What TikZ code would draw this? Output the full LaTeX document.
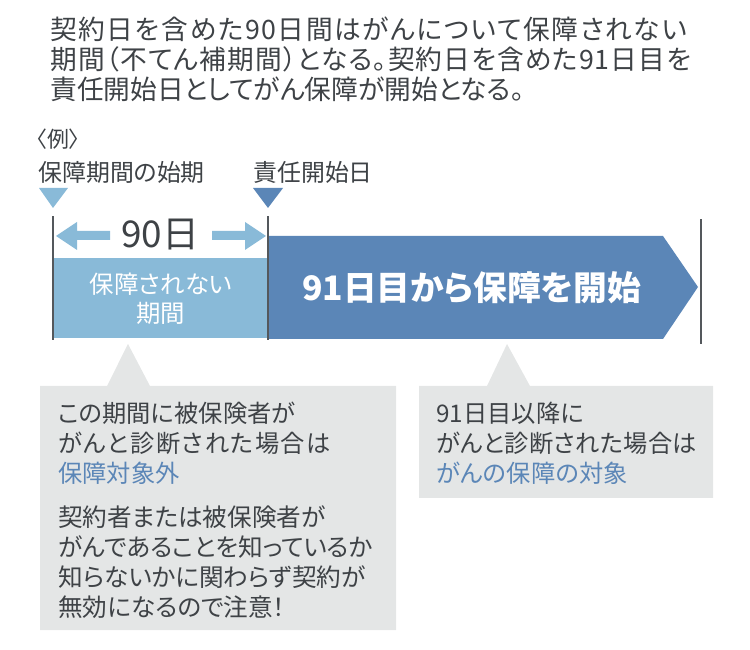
\documentclass[tikz,border=0pt]{standalone}
\usepackage{xcolor}
\usepackage{fontspec}
\setmainfont[RawFeature=+palt]{Noto Sans CJK JP}
\usetikzlibrary{calc}
\definecolor{lightblue}{HTML}{89BAD8}
\definecolor{darkblue}{HTML}{5B86B7}
\definecolor{calloutgray}{HTML}{E4E6E6}
\definecolor{inkgray}{HTML}{3E4246}
\definecolor{rulegray}{HTML}{54585C}
\newcommand{\spreadtxt}[2]{{\addfontfeature{LetterSpace=#1}#2}}
\tikzset{
  txt/.style={anchor=west,inner sep=0pt,text=inkgray,align=left},
  smalltxt/.style={txt,font=\fontsize{13.8}{17}\selectfont},
  marktxt/.style={txt,font=\fontsize{13.6}{17}\selectfont},
  warntxt/.style={txt,font=\fontsize{14}{17}\selectfont},
  headtxt/.style={txt,font=\fontsize{15.2}{17}\selectfont},
}
\begin{document}
\begin{tikzpicture}
    \useasboundingbox (0,0) rectangle (15,12.98);
    % top text
    \node[headtxt] (head) at (1,11.79) {\spreadtxt{6}{契約日を含めた90日間はがんについて保障されない}\\\spreadtxt{4}{期間（不てん補期間）となる。契約日を含めた91日目を}\\責任開始日としてがん保障が開始となる。};
    \node[txt,font=\fontsize{12.5}{17}\selectfont] (example) at (.72,10.2) {〈例〉};
    \node[marktxt] (startlabel) at (.76,9.54) {保障期間の始期};
    \node[marktxt] (liablabel) at (5.06,9.54) {責任開始日};
    \draw[fill=lightblue,draw=none] (.78,9.22) -- (1.36,9.22) -- (1.06,8.82) -- cycle;
    \draw[fill=darkblue,draw=none] (5.06,9.22) -- (5.66,9.22) -- (5.36,8.82) -- cycle;
    % bars
    \draw[fill=lightblue,draw=none] (1.06,6.22) rectangle (5.36,7.82);
    \draw[fill=darkblue,draw=none] (5.36,8.26) -- (13.26,8.26) -- (13.96,7.24) -- (13.26,6.2) -- (5.36,6.2) -- cycle;
    \node[inner sep=0pt,text=white,align=center,font=\fontsize{13.9}{16.6}\selectfont] (uncovered) at (3.22,7.0) {保障されない\\期間};
    \node[inner sep=0pt,text=white,font=\fontsize{19.2}{22}\selectfont\bfseries] (covered) at (9.43,7.22) {91日目から保障を開始};
    % 90 days span
    \node[inner sep=0pt,text=inkgray,font=\fontsize{21}{24}\selectfont] (days) at (3.2,8.28) {90日};
    \draw[fill=lightblue,draw=none] (1.12,8.26) -- (1.54,8.54) -- (1.54,8.36) -- (2.2,8.36) -- (2.2,8.18) -- (1.54,8.18) -- (1.54,7.98) -- cycle;
    \draw[fill=lightblue,draw=none] (5.32,8.26) -- (4.9,8.54) -- (4.9,8.36) -- (4.24,8.36) -- (4.24,8.18) -- (4.9,8.18) -- (4.9,7.98) -- cycle;
    \foreach \i/\a/\b in {1.06/6.18/8.66,5.36/6.18/8.66,14.02/6.1/8.6}
    {
      \draw[rulegray,line width=1.6pt] (\i,\a) -- (\i,\b);
    }
    % callouts
    \draw[fill=calloutgray,draw=none] (.8,.38) -- (7.92,.38) -- (7.92,5.26) -- (3,5.26) -- (2.56,6.1) -- (2.14,5.26) -- (.8,5.26) -- cycle;
    \draw[fill=calloutgray,draw=none] (8.38,3.02) -- (14.26,3.02) -- (14.26,5.26) -- (10.6,5.26) -- (10.14,6.1) -- (9.74,5.26) -- (8.38,5.26) -- cycle;
    \node[smalltxt] (leftnote) at (1.16,4.11) {この期間に被保険者が\\\spreadtxt{6}{がんと診断された場合は}\\\textcolor{darkblue}{保障対象外}};
    \node[warntxt] (warning) at (1.16,1.74) {契約者または被保険者が\\がんであることを知っているか\\知らないかに関わらず契約が\\無効になるので注意！};
    \node[smalltxt] (rightnote) at (8.72,4.11) {91日目以降に\\\spreadtxt{1}{がんと診断された場合は}\\\spreadtxt{1}{\textcolor{darkblue}{がんの保障の対象}}};
\end{tikzpicture}
\end{document}
